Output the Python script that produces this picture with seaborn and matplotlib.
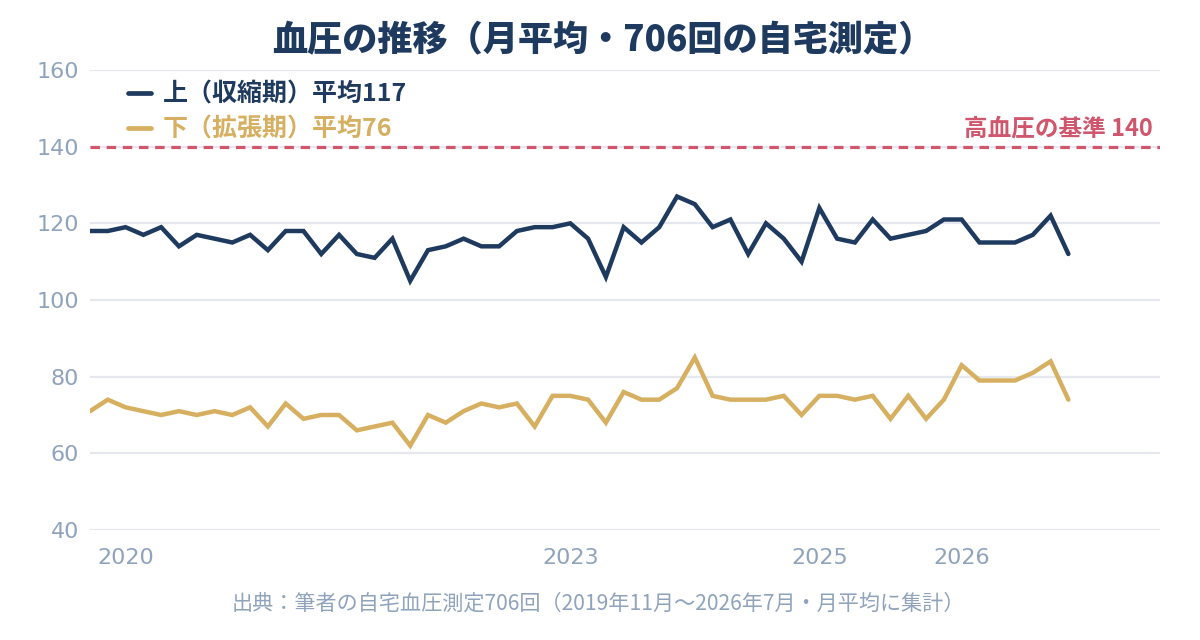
import matplotlib
matplotlib.use("Agg")
import matplotlib.pyplot as plt
from matplotlib.lines import Line2D
import seaborn as sns
import pandas as pd
import numpy as np

# ---- data ----
months = [
    "2019-11", "2019-12",
    "2020-01", "2020-02", "2020-03", "2020-04", "2020-05", "2020-06", "2020-07",
    "2020-08", "2020-09", "2020-10", "2020-11", "2020-12",
    "2021-03", "2021-04", "2021-05", "2021-06", "2021-07", "2021-09", "2021-10", "2021-11",
    "2022-04", "2022-06", "2022-09", "2022-10", "2022-11",
    "2023-01", "2023-02", "2023-03", "2023-04", "2023-05", "2023-06", "2023-07",
    "2023-08", "2023-10", "2023-12",
    "2024-03", "2024-05", "2024-08", "2024-11",
    "2025-01", "2025-02", "2025-03", "2025-04", "2025-06", "2025-08", "2025-10", "2025-12",
    "2026-01", "2026-02", "2026-03", "2026-04", "2026-05", "2026-06", "2026-07",
]
systolic = [
    118, 118, 119, 117, 119, 114, 117, 116, 115, 117,
    113, 118, 118, 112, 117, 112, 111, 116, 105, 113,
    114, 116, 114, 114, 118, 119, 119, 120, 116, 106,
    119, 115, 119, 127, 125, 119, 121, 112, 120, 116,
    110, 124, 116, 115, 121, 116, 117, 118, 121, 121,
    115, 115, 115, 117, 122, 112,
]
diastolic = [
    71, 74, 72, 71, 70, 71, 70, 71, 70, 72,
    67, 73, 69, 70, 70, 66, 67, 68, 62, 70,
    68, 71, 73, 72, 73, 67, 75, 75, 74, 68,
    76, 74, 74, 77, 85, 75, 74, 74, 74, 75,
    70, 75, 75, 74, 75, 69, 75, 69, 74, 83,
    79, 79, 79, 81, 84, 74,
]
series_labels = ["上（収縮期）平均117", "下（拡張期）平均76"]
threshold = 140
threshold_label = "高血圧の基準 140"
title = "血圧の推移（月平均・706回の自宅測定）"
source = "出典：筆者の自宅血圧測定706回（2019年11月〜2026年7月・月平均に集計）"
y_ticks = [40, 60, 80, 100, 120, 140, 160]

# ---- style ----
NAVY = "#1f3a5f"
GOLD = "#d6b060"
RED = "#cf566d"
GRAY = "#8fa3bd"
GRID = "#e5e9ef"
CJK = ["Noto Sans CJK JP", "DejaVu Sans"]

sns.set_theme(style="white")
plt.rcParams["font.family"] = CJK

df = pd.DataFrame({"idx": np.arange(len(months)), "month": months,
                   "sys": systolic, "dia": diastolic})

W, H = 1200, 640
fig = plt.figure(figsize=(W / 100, H / 100), dpi=100)
ax = fig.add_axes([90 / W, 1 - 530 / H, (1160 - 90) / W, (530 - 70) / H])

ax.set_ylim(40, 160)
ax.set_xlim(0, 60.15)
ax.set_yticks(y_ticks)
for v in y_ticks:
    ax.axhline(v, color=GRID, lw=1.6, zorder=0)

sns.lineplot(data=df, x="idx", y="sys", ax=ax, color=NAVY, lw=3.2,
             legend=False, zorder=3)
sns.lineplot(data=df, x="idx", y="dia", ax=ax, color=GOLD, lw=3.2,
             legend=False, zorder=3)
for ln in ax.lines:
    ln.set_solid_joinstyle("miter")

ax.axhline(threshold, color=RED, lw=2.3, ls=(0, (2.96, 2.1)), zorder=2)
fig.text(1153 / W, 1 - 128 / H, threshold_label, ha="right", va="center",
         color=RED, fontsize=17, fontweight="bold")

# x ticks at first month of each year (January)
tick_pos = [i for i, m in enumerate(months) if m.endswith("-01")]
tick_lab = [months[i][:4] for i in tick_pos]
ax.set_xticks(tick_pos)
ax.set_xticklabels(tick_lab)
ax.tick_params(axis="both", length=0, labelsize=16, labelcolor=GRAY)
ax.tick_params(axis="y", pad=8)
ax.tick_params(axis="x", pad=13)
for lab in ax.get_xticklabels() + ax.get_yticklabels():
    lab.set_fontfamily("DejaVu Sans")
ax.set_xlabel("")
ax.set_ylabel("")
for s in ax.spines.values():
    s.set_visible(False)

handles = [Line2D([], [], color=NAVY, lw=3.4), Line2D([], [], color=GOLD, lw=3.4)]
leg = ax.legend(handles, series_labels, loc="upper left",
                bbox_to_anchor=(38 / (1160 - 90), 1 - 13 / 460), frameon=False,
                handlelength=0.9, handletextpad=0.5, labelspacing=0.42,
                borderaxespad=0.0, borderpad=0.0,
                prop={"family": CJK, "size": 18, "weight": "bold"})
for t, c in zip(leg.get_texts(), [NAVY, GOLD]):
    t.set_color(c)

fig.text(0.502, 1 - 40 / H, title, ha="center", va="center",
         color=NAVY, fontsize=25.3, fontweight=900)
fig.text(0.499, 1 - 604 / H, source, ha="center", va="center",
         color=GRAY, fontsize=15.2)

fig.savefig("out.png", dpi=100)
